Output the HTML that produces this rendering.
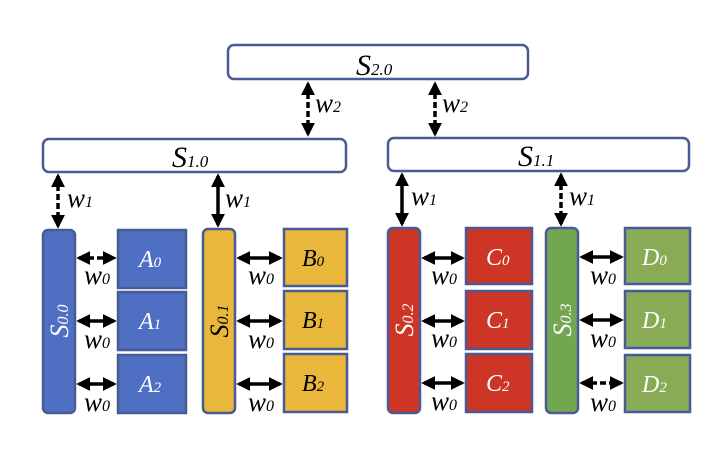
<!DOCTYPE html>
<html><head><style>body{margin:0;background:#fff}svg{display:block}
text{font-family:"Liberation Serif",serif;font-style:italic}</style></head>
<body>
<svg width="720" height="451" viewBox="0 0 720 451" xmlns="http://www.w3.org/2000/svg">
<defs>
<marker id="ah" markerWidth="4" markerHeight="4" refX="3.2" refY="2" orient="auto-start-reverse" markerUnits="strokeWidth"><path d="M0,0 L4,2 L0,4 z" fill="#000"/></marker>
</defs>
<g stroke="#4a5a95" stroke-width="2.5">
<rect x="228" y="45" width="300" height="34" rx="6" fill="#fff"/>
<rect x="43" y="139" width="303" height="33" rx="6" fill="#fff"/>
<rect x="388" y="138" width="301" height="33" rx="6" fill="#fff"/>
<rect x="43" y="230" width="32" height="183" rx="5" fill="#4f70c2"/>
<rect x="118" y="230" width="68" height="58" fill="#4f70c2"/>
<rect x="118" y="292" width="68" height="58" fill="#4f70c2"/>
<rect x="118" y="355" width="68" height="58" fill="#4f70c2"/>
<rect x="203" y="229" width="32" height="184" rx="5" fill="#e9b73c"/>
<rect x="284" y="229" width="63" height="57" fill="#e9b73c"/>
<rect x="284" y="291" width="63" height="58" fill="#e9b73c"/>
<rect x="284" y="354" width="63" height="58" fill="#e9b73c"/>
<rect x="388" y="228" width="32" height="185" rx="5" fill="#cd3527"/>
<rect x="466" y="228" width="66" height="56" fill="#cd3527"/>
<rect x="466" y="291" width="66" height="58" fill="#cd3527"/>
<rect x="466" y="354" width="66" height="58" fill="#cd3527"/>
<rect x="546" y="228" width="32" height="185" rx="5" fill="#72a651"/>
<rect x="625" y="228" width="65" height="56" fill="#8aab56"/>
<rect x="625" y="291" width="65" height="57" fill="#8aab56"/>
<rect x="625" y="355" width="65" height="57" fill="#8aab56"/>
</g>
<g stroke="#000" stroke-width="3.5" marker-start="url(#ah)" marker-end="url(#ah)" fill="none">
<line x1="308" y1="84" x2="308" y2="134" stroke-dasharray="6,3"/>
<line x1="435" y1="84" x2="435" y2="134" stroke-dasharray="6,3"/>
<line x1="58" y1="176" x2="58" y2="226" stroke-dasharray="6,3"/>
<line x1="218" y1="176" x2="218" y2="225"/>
<line x1="402" y1="175" x2="402" y2="224"/>
<line x1="561" y1="175" x2="561" y2="224" stroke-dasharray="6,3"/>
<line x1="79" y1="258" x2="114" y2="258" stroke-dasharray="6,3"/>
<line x1="79" y1="321" x2="114" y2="321"/>
<line x1="79" y1="384" x2="114" y2="384"/>
<line x1="239" y1="258" x2="280" y2="258"/>
<line x1="239" y1="321" x2="280" y2="321"/>
<line x1="239" y1="384" x2="280" y2="384"/>
<line x1="424" y1="258" x2="462" y2="258"/>
<line x1="424" y1="321" x2="462" y2="321"/>
<line x1="424" y1="383" x2="462" y2="383"/>
<line x1="582" y1="257" x2="621" y2="257"/>
<line x1="582" y1="320" x2="621" y2="320"/>
<line x1="582" y1="383" x2="621" y2="383" stroke-dasharray="6,3"/>
</g>
<g fill="#000" font-size="30">
<text x="356" y="75">S<tspan font-size="17">2.0</tspan></text>
<text x="172" y="167">S<tspan font-size="17">1.0</tspan></text>
<text x="518" y="166">S<tspan font-size="17">1.1</tspan></text>
</g>
<g fill="#000" font-size="27">
<text x="315" y="112">w<tspan font-size="16">2</tspan></text>
<text x="442" y="112">w<tspan font-size="16">2</tspan></text>
<text x="67" y="207">w<tspan font-size="16">1</tspan></text>
<text x="225" y="207">w<tspan font-size="16">1</tspan></text>
<text x="411" y="205">w<tspan font-size="16">1</tspan></text>
<text x="569" y="205">w<tspan font-size="16">1</tspan></text>
<text x="84" y="284">w<tspan font-size="16">0</tspan></text>
<text x="84" y="348">w<tspan font-size="16">0</tspan></text>
<text x="84" y="411">w<tspan font-size="16">0</tspan></text>
<text x="248" y="284">w<tspan font-size="16">0</tspan></text>
<text x="248" y="348">w<tspan font-size="16">0</tspan></text>
<text x="248" y="411">w<tspan font-size="16">0</tspan></text>
<text x="431" y="284">w<tspan font-size="16">0</tspan></text>
<text x="431" y="347">w<tspan font-size="16">0</tspan></text>
<text x="431" y="410">w<tspan font-size="16">0</tspan></text>
<text x="590" y="284">w<tspan font-size="16">0</tspan></text>
<text x="590" y="347">w<tspan font-size="16">0</tspan></text>
<text x="590" y="411">w<tspan font-size="16">0</tspan></text>
</g>
<g font-size="24">
<text x="139" y="267" fill="#fff">A<tspan font-size="15">0</tspan></text>
<text x="139" y="329" fill="#fff">A<tspan font-size="15">1</tspan></text>
<text x="139" y="392" fill="#fff">A<tspan font-size="15">2</tspan></text>
<text x="302" y="266" fill="#000">B<tspan font-size="15">0</tspan></text>
<text x="302" y="328" fill="#000">B<tspan font-size="15">1</tspan></text>
<text x="302" y="391" fill="#000">B<tspan font-size="15">2</tspan></text>
<text x="486" y="265" fill="#fff">C<tspan font-size="15">0</tspan></text>
<text x="486" y="328" fill="#fff">C<tspan font-size="15">1</tspan></text>
<text x="486" y="391" fill="#fff">C<tspan font-size="15">2</tspan></text>
<text x="642" y="265" fill="#fff">D<tspan font-size="15">0</tspan></text>
<text x="642" y="328" fill="#fff">D<tspan font-size="15">1</tspan></text>
<text x="642" y="392" fill="#fff">D<tspan font-size="15">2</tspan></text>
</g>
<g font-size="26" text-anchor="middle">
<text transform="translate(68,321) rotate(-90)" fill="#fff">S<tspan font-size="16">0.0</tspan></text>
<text transform="translate(228,321) rotate(-90)" fill="#000">S<tspan font-size="16">0.1</tspan></text>
<text transform="translate(413,320) rotate(-90)" fill="#fff">S<tspan font-size="16">0.2</tspan></text>
<text transform="translate(571,320) rotate(-90)" fill="#fff">S<tspan font-size="16">0.3</tspan></text>
</g>
</svg>
</body></html>
